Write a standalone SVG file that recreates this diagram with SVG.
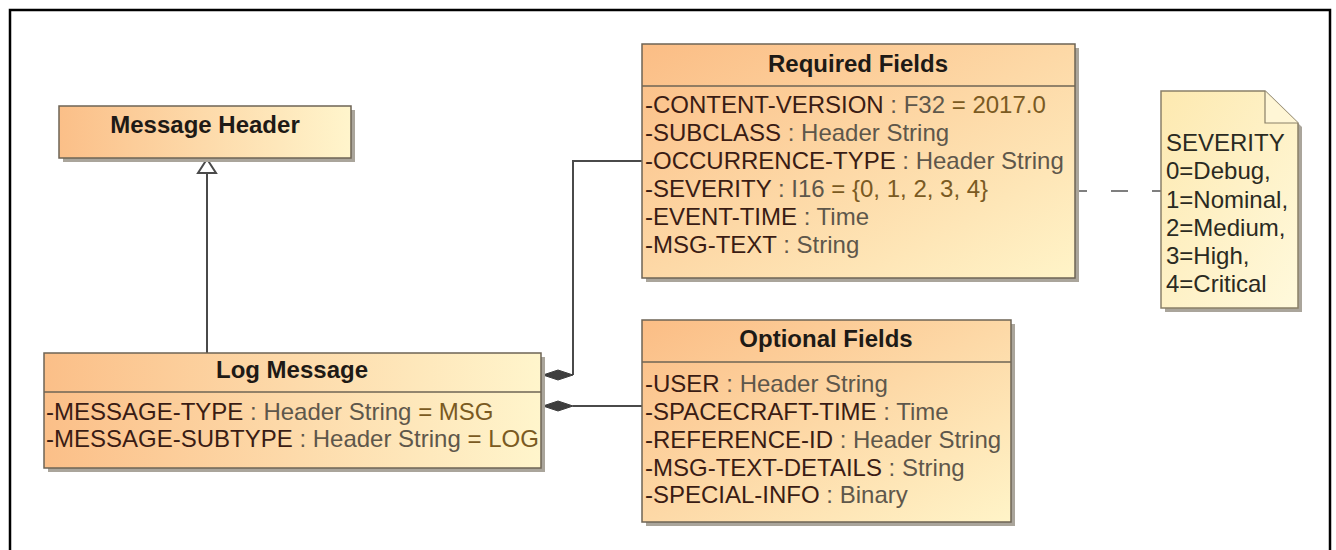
<svg xmlns="http://www.w3.org/2000/svg" width="1336" height="550" viewBox="0 0 1336 550">
<defs>
<linearGradient id="gBox" x1="0" y1="0" x2="1" y2="1">
<stop offset="0" stop-color="#fbbd85"/>
<stop offset="1" stop-color="#fff4c8"/>
</linearGradient>
<linearGradient id="gWide" x1="0" y1="0" x2="1" y2="0">
<stop offset="0" stop-color="#fbbf88"/>
<stop offset="1" stop-color="#fff5cc"/>
</linearGradient>
<linearGradient id="gNote" x1="0" y1="0" x2="1" y2="1">
<stop offset="0" stop-color="#fde9b0"/>
<stop offset="1" stop-color="#fff9dc"/>
</linearGradient>
<style>
.shadow{fill:#aaa59b}
.box{stroke:#6e6455;stroke-width:1.5}
.div{stroke:#6e6455;stroke-width:1.5}
.title{font-family:"Liberation Sans",Arial,sans-serif;font-weight:bold;font-size:24px;fill:#1e1a16;text-anchor:middle}
.attr{font-family:"Liberation Sans",Arial,sans-serif;font-size:24px;fill:#3a1c14}
.ty{fill:#5e574b}
.val{fill:#7a5a22}
.note{font-family:"Liberation Sans",Arial,sans-serif;font-size:24px;fill:#2a2a22}
.conn{fill:none;stroke:#4a4a4a;stroke-width:2}
</style>
</defs>
<rect x="10" y="10" width="1320" height="580" fill="none" stroke="#000" stroke-width="2.5"/>

<g id="connectors">
<line class="conn" x1="207" y1="173" x2="207" y2="353"/>
<polygon points="207,159 198,173 216,173" fill="#fff" stroke="#4a4a4a" stroke-width="2"/>
<polyline class="conn" points="573,375 573,161 642,161"/>
<polygon points="543,375 558,370 573,375 558,380" fill="#3e3e3e" stroke="#3e3e3e" stroke-width="1"/>
<line class="conn" x1="573" y1="406" x2="642" y2="406"/>
<polygon points="543,406 558,401 573,406 558,411" fill="#3e3e3e" stroke="#3e3e3e" stroke-width="1"/>
<line x1="1070" y1="191" x2="1161" y2="191" stroke="#555" stroke-width="1.5" stroke-dasharray="17,24"/>
<circle cx="1066" cy="191" r="3" fill="none" stroke="#777" stroke-width="1.2"/>
</g>

<g id="message-header">
<rect class="shadow" x="63" y="110" width="292" height="52"/>
<rect class="box" x="59" y="106" width="292" height="52" fill="url(#gWide)"/>
<text class="title" x="205" y="133">Message Header</text>
</g>

<g id="log-message">
<rect class="shadow" x="48" y="357" width="497" height="115"/>
<rect class="box" x="44" y="353" width="497" height="115" fill="url(#gWide)"/>
<line class="div" x1="44" y1="392" x2="541" y2="392"/>
<text class="title" x="292" y="378">Log Message</text>
<text class="attr" x="46" y="420">-MESSAGE-TYPE<tspan class="ty"> : Header String </tspan><tspan class="val">= MSG</tspan></text>
<text class="attr" x="46" y="447">-MESSAGE-SUBTYPE<tspan class="ty"> : Header String </tspan><tspan class="val">= LOG</tspan></text>
</g>

<g id="required-fields">
<rect class="shadow" x="646" y="48" width="433" height="234"/>
<rect class="box" x="642" y="44" width="433" height="234" fill="url(#gBox)"/>
<line class="div" x1="642" y1="86" x2="1075" y2="86"/>
<text class="title" x="858" y="72">Required Fields</text>
<text class="attr" x="645" y="113">-CONTENT-VERSION<tspan class="ty"> : F32 </tspan><tspan class="val">= 2017.0</tspan></text>
<text class="attr" x="645" y="141">-SUBCLASS<tspan class="ty"> : Header String</tspan></text>
<text class="attr" x="645" y="169">-OCCURRENCE-TYPE<tspan class="ty"> : Header String</tspan></text>
<text class="attr" x="645" y="197">-SEVERITY<tspan class="ty"> : I16 </tspan><tspan class="val">= {0, 1, 2, 3, 4}</tspan></text>
<text class="attr" x="645" y="225">-EVENT-TIME<tspan class="ty"> : Time</tspan></text>
<text class="attr" x="645" y="253">-MSG-TEXT<tspan class="ty"> : String</tspan></text>
</g>

<g id="optional-fields">
<rect class="shadow" x="646" y="324" width="369" height="202"/>
<rect class="box" x="642" y="320" width="369" height="202" fill="url(#gBox)"/>
<line class="div" x1="642" y1="362" x2="1011" y2="362"/>
<text class="title" x="826" y="347">Optional Fields</text>
<text class="attr" x="645" y="392">-USER<tspan class="ty"> : Header String</tspan></text>
<text class="attr" x="645" y="420">-SPACECRAFT-TIME<tspan class="ty"> : Time</tspan></text>
<text class="attr" x="645" y="448">-REFERENCE-ID<tspan class="ty"> : Header String</tspan></text>
<text class="attr" x="645" y="476">-MSG-TEXT-DETAILS<tspan class="ty"> : String</tspan></text>
<text class="attr" x="645" y="503">-SPECIAL-INFO<tspan class="ty"> : Binary</tspan></text>
</g>

<g id="severity-note">
<path class="shadow" d="M1165,95 H1269 L1302,127 V312 H1165 Z"/>
<path d="M1161,91 H1265 L1298,123 V308 H1161 Z" fill="url(#gNote)" stroke="#8a8068" stroke-width="1.5"/>
<path d="M1265,91 V123 H1298" fill="#fff6d6" stroke="#8a8068" stroke-width="1.2"/>
<text class="note" x="1166" y="151">SEVERITY</text>
<text class="note" x="1166" y="179">0=Debug,</text>
<text class="note" x="1166" y="208">1=Nominal,</text>
<text class="note" x="1166" y="236">2=Medium,</text>
<text class="note" x="1166" y="264">3=High,</text>
<text class="note" x="1166" y="292">4=Critical</text>
</g>
</svg>
